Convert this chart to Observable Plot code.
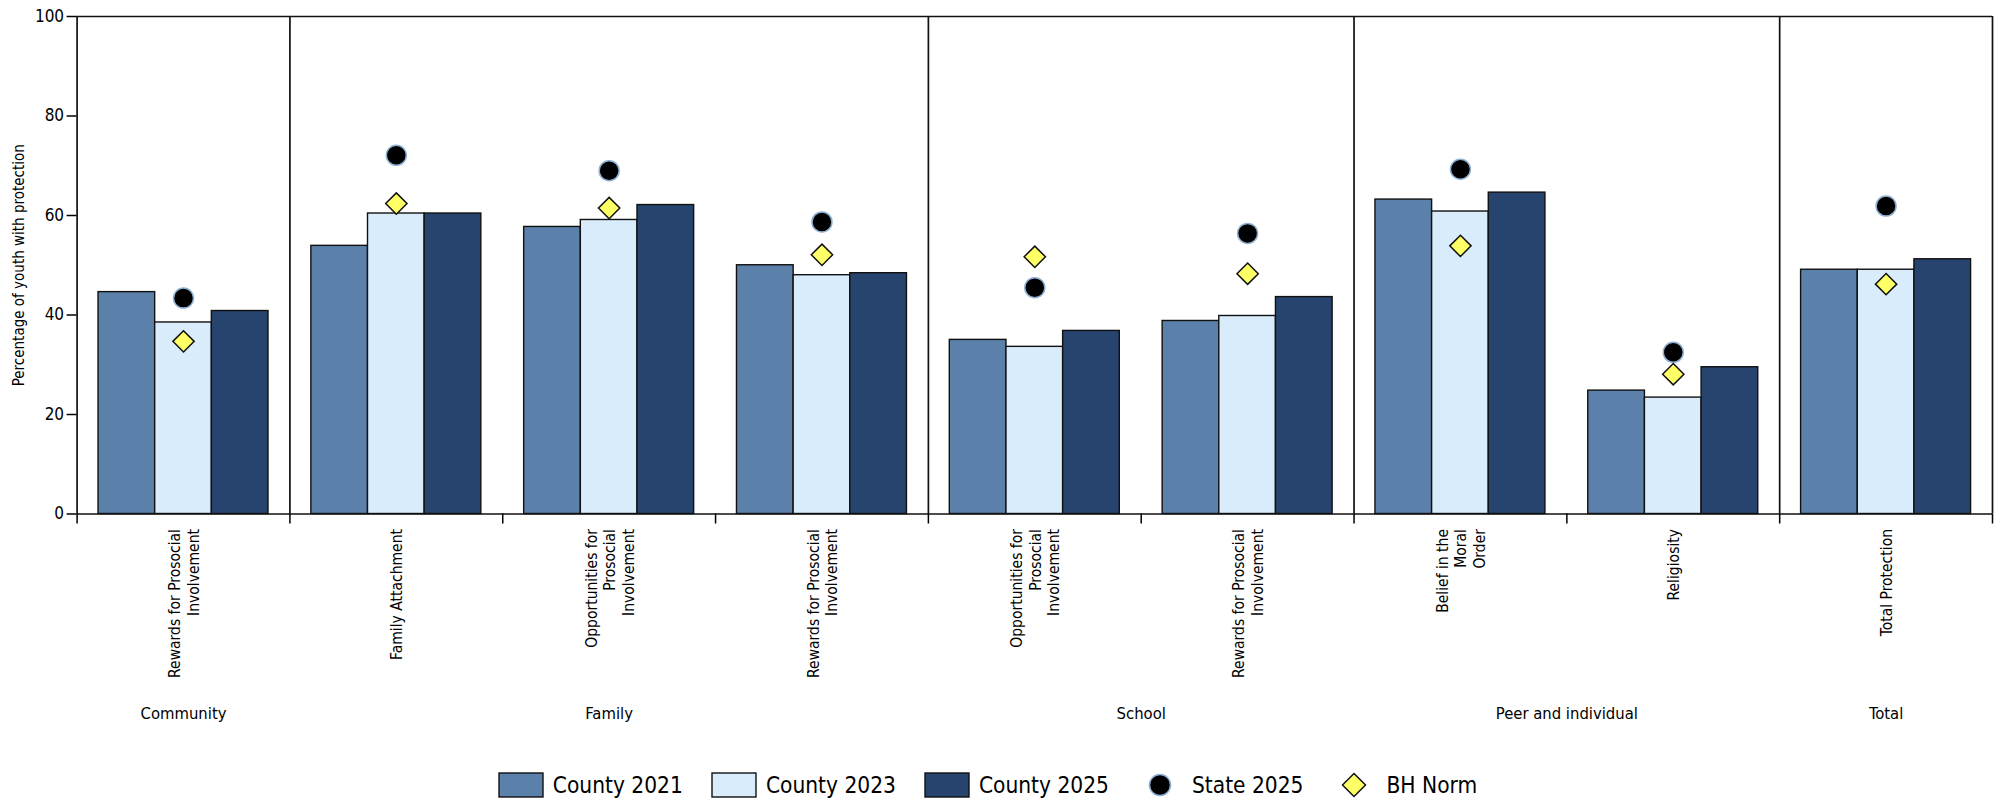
<!DOCTYPE html>
<html>
<head>
<meta charset="utf-8">
<script src="https://cdn.jsdelivr.net/npm/d3@7"></script>
<script src="https://cdn.jsdelivr.net/npm/@observablehq/plot@0.6"></script>
<style>
  html, body { margin: 0; padding: 0; background: #fff; }
  body { width: 2001px; height: 804px; overflow: hidden; font-family: "Liberation Sans Narrow", "DejaVu Sans Condensed", "Noto Sans", sans-serif; font-stretch: condensed; }
  #chart svg { display: block; font-stretch: condensed; }
  #legend { display: flex; justify-content: center; align-items: center; height: 30px; margin-top: 20px; padding-right: 26px; font-size: 22.5px; color: #000; }
  .item { display: flex; align-items: center; margin: 0 14px; }
  .item svg { display: block; margin-right: 9px; }
</style>
</head>
<body>
<div id="chart"></div>
<div id="legend"></div>
<script>
// ---- data ----
const groups = ["Community", "Family", "School", "Peer and individual", "Total"];
const categoryGroups = [0, 1, 1, 1, 2, 2, 3, 3, 4];
const categoryLabels = [
  "Rewards for Prosocial\nInvolvement",
  "Family Attachment",
  "Opportunities for\nProsocial\nInvolvement",
  "Rewards for Prosocial\nInvolvement",
  "Opportunities for\nProsocial\nInvolvement",
  "Rewards for Prosocial\nInvolvement",
  "Belief in the\nMoral\nOrder",
  "Religiosity",
  "Total Protection"
];
const series = ["County 2021", "County 2023", "County 2025"];
const county2021 = [44.6, 53.9, 57.7, 50.0, 35.0, 38.8, 63.2, 24.8, 49.1];
const county2023 = [38.5, 60.4, 59.1, 48.0, 33.6, 39.8, 60.8, 23.4, 49.1];
const county2025 = [40.8, 60.4, 62.1, 48.4, 36.8, 43.6, 64.6, 29.5, 51.2];
const state2025  = [43.4, 72.1, 69.0, 58.7, 45.5, 56.4, 69.3, 32.5, 61.9];
const bhNorm     = [34.7, 62.4, 61.5, 52.1, 51.7, 48.3, 53.9, 28.1, 46.2];
const yTicks = [0, 20, 40, 60, 80, 100];
const yLabel = "Percentage of youth with protection";
const colors = ["#5b80a9", "#d9ecfc", "#26446e"];

// ---- derived tables ----
const seriesValues = [county2021, county2023, county2025];
const cats = categoryLabels.map((label, i) => ({i, label, group: categoryGroups[i], state: state2025[i], norm: bhNorm[i]}));
const bars = [];
cats.forEach(c => series.forEach((s, k) => bars.push({i: c.i, series: s, value: seriesValues[k][c.i]})));
const groupInfo = groups.map((name, g) => {
  const idx = cats.filter(c => c.group === g).map(c => c.i);
  return {name, start: d3.min(idx), end: d3.max(idx) + 1};
});
const boundaries = d3.range(cats.length + 1);
const groupEdges = [...new Set(groupInfo.flatMap(g => [g.start, g.end]))];
const inner = d3.scaleBand().domain(series).range([0, 1]).paddingInner(0).paddingOuter(0.378);
const yMid = (yTicks[0] + yTicks[yTicks.length - 1]) / 2;

const font = '"Liberation Sans Narrow", "DejaVu Sans Condensed", "Noto Sans", sans-serif';
const H = 750;
const chart = Plot.plot({
  width: 2001,
  height: H,
  marginLeft: 76.6,
  marginRight: 9,
  marginTop: 16,
  marginBottom: H - 513.5,
  style: {fontFamily: font, color: "#000", background: "#fff", overflow: "visible"},
  x: {type: "linear", domain: [0, cats.length], axis: null},
  y: {domain: [0, 100], axis: null},
  color: {domain: series, range: colors},
  marks: [
    Plot.rect(bars, {
      x1: d => d.i + inner(d.series),
      x2: d => d.i + inner(d.series) + inner.bandwidth(),
      y1: 0, y2: "value",
      fill: "series", stroke: "#111", strokeWidth: 1.4
    }),
    Plot.ruleX(groupEdges, {y1: 0, y2: 100, stroke: "#111", strokeWidth: 1.7}),
    Plot.ruleY([100], {stroke: "#111", strokeWidth: 1.7}),
    Plot.ruleY([0], {stroke: "#111", strokeWidth: 1.7}),
    Plot.axisY({ticks: yTicks, tickSize: 10, tickPadding: 3, fontSize: 17, label: null, strokeWidth: 1.5}),
    Plot.axisX({ticks: boundaries, tickSize: 10, tickFormat: () => "", label: null, strokeWidth: 1.5}),
    Plot.dot(cats, {x: d => d.i + 0.5, y: "state", r: 10, fill: "#000", stroke: "#8db0d3", strokeWidth: 1.5}),
    Plot.dot(cats, {x: d => d.i + 0.5, y: "norm", r: 9.6, symbol: "diamond2", fill: "#ffff66", stroke: "#111", strokeWidth: 1.5}),
    Plot.text(cats, {x: d => d.i + 0.5, y: 0, text: "label", rotate: -90, textAnchor: "end", lineAnchor: "middle", dy: 15, fontSize: 15.5, lineHeight: 1.2, fill: "#000"}),
    Plot.text(groupInfo, {x: d => (d.start + d.end) / 2, y: 0, text: "name", dy: 200, fontSize: 16.5, lineAnchor: "middle", fill: "#000"}),
    Plot.text([yLabel], {x: 0, y: yMid, text: d => d, dx: -58, rotate: -90, fontSize: 15, textAnchor: "middle", lineAnchor: "middle", fill: "#000"})
  ]
});
document.getElementById("chart").appendChild(chart);

// ---- legend ----
const legend = d3.select("#legend");
const legendItems = [
  ...series.map((s, k) => ({label: s, kind: "rect", color: colors[k]})),
  {label: "State 2025", kind: "dot"},
  {label: "BH Norm", kind: "diamond"}
];
legendItems.forEach(it => {
  const item = legend.append("div").attr("class", "item");
  const svg = item.append("svg").attr("width", 46).attr("height", 26);
  if (it.kind === "rect") {
    svg.append("rect").attr("x", 1).attr("y", 1).attr("width", 44).attr("height", 24).attr("fill", it.color).attr("stroke", "#111").attr("stroke-width", 1.4);
  } else if (it.kind === "dot") {
    svg.append("circle").attr("cx", 23).attr("cy", 13).attr("r", 10.5).attr("fill", "#000").attr("stroke", "#8db0d3").attr("stroke-width", 1.5);
  } else {
    svg.append("path").attr("d", "M23,1.5L34.5,13L23,24.5L11.5,13Z").attr("fill", "#ffff66").attr("stroke", "#111").attr("stroke-width", 1.5);
  }
  item.append("span").text(it.label);
});
</script>
</body>
</html>
